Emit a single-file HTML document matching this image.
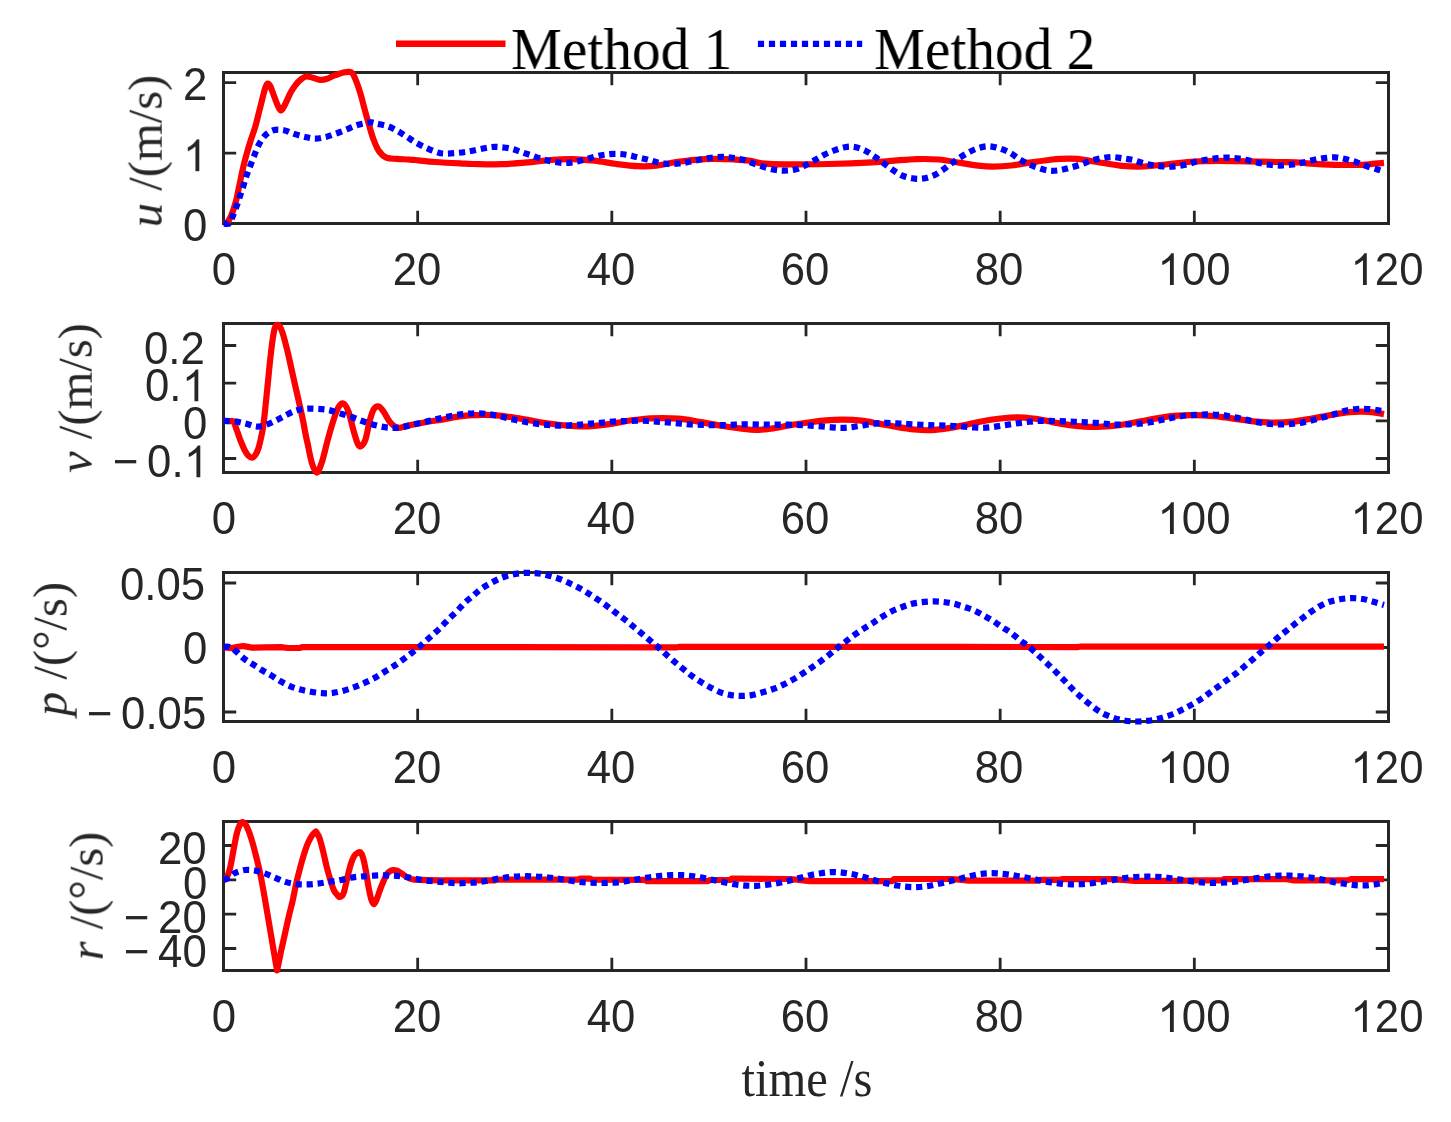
<!DOCTYPE html>
<html><head><meta charset="utf-8"><title>chart</title>
<style>
html,body{margin:0;padding:0;background:#fff;}
body{width:1451px;height:1122px;position:relative;overflow:hidden;font-family:"Liberation Sans",sans-serif;color:#262626;}
.t{position:absolute;white-space:nowrap;line-height:1;will-change:transform;}
.xt{font-size:43.75px;transform:translateX(-50%) scaleY(1.045);transform-origin:50% 50%;}
.yt{font-size:43.75px;transform:translateY(-50%) scaleY(1.045);text-align:right;}
.lab{font-family:"Liberation Serif",serif;font-size:48.6px;}
.leg{font-family:"Liberation Serif",serif;font-size:58.3px;color:#000;}
.yl{transform:translate(-50%,-50%) rotate(-90deg) scaleY(1.0);}
.mn{margin-right:8.5px;}
.g1{display:inline-block;width:0.5562em;height:0.695em;vertical-align:baseline;fill:#262626;overflow:visible;}
</style></head><body>
<svg width="1451" height="1122" viewBox="0 0 1451 1122" style="position:absolute;left:0;top:0">
<path d="M417.67,223.5v-12.7M417.67,72.5v12.7M611.83,223.5v-12.7M611.83,72.5v12.7M806.00,223.5v-12.7M806.00,72.5v12.7M1000.17,223.5v-12.7M1000.17,72.5v12.7M1194.33,223.5v-12.7M1194.33,72.5v12.7M223.5,82.6h12.7M1388.5,82.6h-12.7M223.5,153.05h12.7M1388.5,153.05h-12.7" stroke="#262626" stroke-width="2.8" fill="none"/>
<rect x="223.5" y="72.5" width="1165.0" height="151.0" fill="none" stroke="#262626" stroke-width="3"/>
<path d="M223.5,223.5C224.2,223.2 226.2,223.4 227.5,222.0C228.8,220.6 230.1,218.4 231.5,215.0C232.9,211.6 234.6,206.2 235.9,201.4C237.2,196.6 238.1,191.2 239.2,186.2C240.3,181.1 241.2,176.1 242.3,171.1C243.5,166.1 244.7,160.9 246.1,155.9C247.5,150.9 249.0,145.9 250.6,140.8C252.2,135.8 254.1,130.7 255.6,125.6C257.1,120.5 258.1,115.5 259.4,110.5C260.7,105.5 262.2,99.2 263.2,95.3C264.2,91.4 264.8,89.0 265.6,87.0C266.4,85.0 267.0,83.8 267.8,83.6C268.6,83.4 269.2,84.2 270.2,86.0C271.1,87.8 272.3,91.4 273.5,94.5C274.7,97.6 276.1,101.8 277.3,104.5C278.5,107.2 279.7,110.3 280.9,110.5C282.1,110.7 282.9,108.5 284.5,105.5C286.1,102.5 288.9,95.8 290.8,92.3C292.7,88.8 294.4,86.6 296.0,84.5C297.6,82.4 298.8,81.1 300.5,79.8C302.2,78.5 303.9,76.8 306.0,76.5C308.1,76.2 310.7,77.2 313.0,77.8C315.3,78.4 317.7,79.7 320.0,79.9C322.3,80.1 324.8,79.5 327.0,78.8C329.2,78.1 331.1,76.8 333.0,76.0C334.9,75.2 336.8,74.6 338.5,74.0C340.2,73.4 341.8,72.9 343.5,72.5C345.2,72.1 347.5,71.7 349.0,71.8C350.5,71.9 351.1,71.6 352.3,73.2C353.5,74.8 354.9,77.9 356.3,81.4C357.7,84.9 359.2,89.4 360.6,94.2C362.0,99.0 363.5,105.1 364.9,110.3C366.3,115.5 367.7,120.4 369.1,125.2C370.5,130.0 371.8,134.8 373.4,139.1C375.0,143.4 376.6,147.8 378.8,150.9C381.0,154.0 383.3,156.4 386.3,157.7C389.3,159.0 393.1,158.6 397.0,158.9C400.9,159.2 406.4,159.3 410.0,159.6C413.6,159.8 414.3,160.0 418.5,160.4C422.7,160.8 428.1,161.5 435.0,162.0C441.9,162.5 453.7,163.1 460.0,163.4C466.3,163.7 466.0,163.9 473.0,164.0C480.0,164.1 492.6,164.5 501.8,164.2C511.0,163.9 520.1,163.1 528.2,162.4C536.3,161.7 542.9,160.6 550.3,160.0C557.6,159.4 564.9,159.0 572.3,159.1C579.6,159.2 587.0,159.9 594.4,160.7C601.8,161.5 609.0,163.1 616.4,164.0C623.8,164.9 631.9,165.9 638.5,166.2C645.1,166.5 649.4,166.4 656.0,165.7C662.6,165.0 670.1,162.9 678.2,161.8C686.3,160.7 696.6,159.6 704.7,159.1C712.8,158.6 719.4,158.8 726.7,159.1C734.1,159.4 742.9,160.0 748.8,160.7C754.7,161.4 756.1,162.7 762.0,163.3C767.9,163.9 773.1,164.3 784.1,164.4C795.1,164.5 813.5,164.3 828.2,164.0C842.9,163.7 861.3,163.0 872.3,162.4C883.3,161.8 887.0,161.2 894.4,160.7C901.8,160.1 909.0,159.3 916.4,159.1C923.8,158.9 931.1,158.9 938.5,159.5C945.9,160.1 953.9,161.9 960.5,162.9C967.1,163.9 972.7,165.1 978.2,165.7C983.7,166.3 988.1,166.6 993.6,166.6C999.1,166.6 1005.0,166.2 1011.3,165.5C1017.5,164.8 1024.8,163.3 1031.1,162.4C1037.3,161.5 1044.0,160.6 1048.8,160.0C1053.6,159.4 1055.2,159.0 1059.9,158.8C1064.6,158.6 1071.0,158.3 1077.2,158.8C1083.4,159.3 1089.6,160.8 1097.1,162.0C1104.5,163.2 1114.1,165.1 1121.9,165.8C1129.8,166.6 1136.4,166.8 1144.2,166.5C1152.0,166.2 1160.7,164.8 1169.0,164.0C1177.3,163.2 1185.5,162.0 1193.8,161.5C1202.1,161.0 1210.0,160.8 1218.7,160.8C1227.4,160.8 1236.5,161.1 1246.0,161.3C1255.5,161.5 1266.6,161.8 1275.7,162.0C1284.8,162.2 1295.3,162.3 1300.5,162.5C1305.7,162.7 1301.2,163.0 1307.0,163.4C1312.8,163.8 1325.8,164.6 1335.0,164.8C1344.2,165.0 1355.8,165.0 1362.0,164.8C1368.2,164.6 1368.3,164.1 1372.0,163.8C1375.7,163.5 1382.0,163.1 1384.0,162.9" stroke="#ff0000" stroke-width="6.2" fill="none" stroke-linejoin="round"/>
<path d="M223.5,223.5C224.5,223.5 228.0,224.6 229.6,223.3C231.2,222.0 231.7,218.7 232.9,215.8C234.1,212.9 235.5,209.2 236.7,205.9C237.9,202.6 238.9,199.5 240.0,196.1C241.1,192.7 242.4,189.1 243.5,185.5C244.6,181.9 245.6,178.2 246.8,174.8C248.0,171.4 249.3,168.4 250.6,165.0C251.9,161.6 253.3,157.8 254.7,154.4C256.1,151.0 257.2,147.7 258.9,144.5C260.6,141.3 262.6,137.9 265.0,135.5C267.4,133.1 270.2,131.1 273.3,130.2C276.4,129.3 280.4,129.6 283.9,130.2C287.4,130.8 290.6,132.8 294.1,133.9C297.7,135.0 301.7,136.1 305.2,136.9C308.7,137.7 311.7,138.6 315.1,138.6C318.6,138.6 322.4,137.7 325.9,136.9C329.3,136.1 332.4,134.8 335.8,133.6C339.2,132.4 343.1,130.9 346.5,129.5C349.9,128.1 353.2,126.4 356.5,125.3C359.8,124.2 363.8,123.4 366.4,122.9C369.0,122.4 370.2,122.3 372.0,122.4C373.8,122.5 374.5,123.1 377.1,123.7C379.8,124.3 384.4,125.0 387.9,126.2C391.3,127.4 394.6,129.3 397.8,131.1C401.0,132.9 403.9,135.0 406.9,136.9C409.9,138.8 412.8,140.9 416.0,142.7C419.2,144.5 422.6,146.2 425.9,147.7C429.2,149.2 432.5,150.8 435.8,151.8C439.1,152.8 440.4,153.6 445.5,153.6C450.6,153.6 459.3,152.8 466.5,151.8C473.7,150.8 483.2,148.2 488.5,147.4C493.8,146.6 494.7,146.8 498.4,147.0C502.1,147.2 506.9,147.7 510.6,148.5C514.3,149.3 517.2,150.7 520.5,151.8C523.8,152.9 526.9,153.9 530.4,155.1C533.9,156.3 538.0,157.9 541.5,158.9C545.0,159.9 547.9,160.6 551.4,161.3C554.9,162.0 558.9,162.7 562.4,162.9C565.9,163.1 568.8,162.9 572.3,162.4C575.8,161.9 579.7,160.9 583.4,160.0C587.1,159.1 590.9,157.8 594.4,156.9C597.9,156.0 600.8,155.2 604.3,154.7C607.8,154.2 611.6,153.8 615.3,153.8C619.0,153.8 622.9,154.2 626.4,154.7C629.9,155.2 632.8,156.1 636.3,156.9C639.8,157.7 643.8,158.6 647.3,159.5C650.8,160.4 653.7,161.4 657.2,162.2C660.7,162.9 664.6,163.8 668.3,164.0C672.0,164.2 675.8,163.9 679.3,163.5C682.8,163.1 685.7,162.5 689.2,161.8C692.7,161.1 696.6,160.2 700.3,159.5C704.0,158.8 707.6,158.2 711.3,157.8C715.0,157.4 718.8,156.9 722.3,156.9C725.8,156.9 728.7,157.3 732.2,157.8C735.7,158.3 739.8,158.9 743.3,159.8C746.8,160.7 749.9,162.2 753.2,163.4C756.5,164.6 759.7,165.8 763.2,166.8C766.7,167.9 770.7,169.1 774.2,169.7C777.7,170.3 780.6,170.6 784.1,170.6C787.6,170.6 791.6,170.3 795.1,169.5C798.6,168.7 801.8,167.1 805.1,165.5C808.4,163.9 811.8,161.8 815.0,160.0C818.2,158.2 821.1,156.3 824.3,154.7C827.5,153.1 831.0,151.6 834.4,150.3C837.8,149.1 841.4,147.8 844.8,147.2C848.2,146.6 851.3,146.4 854.7,147.0C858.1,147.6 862.0,149.1 865.3,150.7C868.6,152.3 871.5,154.5 874.5,156.5C877.5,158.5 880.4,160.7 883.4,162.9C886.4,165.1 889.2,167.4 892.2,169.5C895.2,171.6 898.4,173.9 901.7,175.4C905.0,176.9 908.6,177.8 912.0,178.3C915.4,178.9 918.6,179.1 922.0,178.7C925.4,178.3 929.0,177.4 932.3,176.1C935.6,174.8 938.8,172.6 941.8,170.6C944.8,168.6 947.6,166.1 950.6,164.0C953.6,161.9 956.5,159.8 959.5,157.8C962.5,155.9 965.6,153.9 968.7,152.3C971.8,150.7 974.9,149.1 978.2,148.1C981.6,147.1 985.2,146.2 988.8,146.3C992.4,146.4 996.2,147.4 999.8,148.5C1003.4,149.6 1007.0,151.2 1010.2,152.9C1013.4,154.6 1016.0,157.1 1019.0,158.9C1022.0,160.8 1025.3,162.5 1028.5,164.0C1031.7,165.5 1034.8,166.8 1038.2,167.9C1041.6,169.0 1045.3,170.2 1048.8,170.6C1052.3,171.0 1055.9,170.7 1059.4,170.2C1062.9,169.7 1066.2,168.6 1069.8,167.7C1073.4,166.8 1077.4,165.7 1080.9,164.5C1084.4,163.3 1087.5,161.8 1090.9,160.8C1094.3,159.8 1097.8,158.9 1101.3,158.3C1104.8,157.7 1108.5,157.1 1112.0,157.1C1115.5,157.1 1118.9,157.8 1122.4,158.3C1125.9,158.8 1129.5,159.2 1133.1,160.0C1136.6,160.8 1140.2,162.4 1143.7,163.3C1147.2,164.2 1150.6,164.8 1154.1,165.3C1157.6,165.8 1161.3,166.3 1164.8,166.5C1168.3,166.7 1171.6,166.6 1175.2,166.3C1178.8,166.0 1182.8,165.3 1186.4,164.5C1190.0,163.7 1193.3,162.3 1196.8,161.5C1200.3,160.7 1203.9,160.2 1207.5,159.6C1211.1,159.0 1214.7,158.4 1218.2,158.1C1221.7,157.8 1225.1,157.5 1228.6,157.6C1232.1,157.7 1235.7,158.1 1239.3,158.6C1242.9,159.1 1246.6,160.0 1250.2,160.8C1253.8,161.6 1257.3,162.6 1260.8,163.3C1264.3,164.0 1267.8,164.6 1271.3,165.0C1274.8,165.4 1278.4,165.6 1281.9,165.5C1285.5,165.4 1289.1,165.0 1292.6,164.5C1296.1,164.0 1299.5,163.2 1303.0,162.5C1306.5,161.8 1309.9,160.7 1313.4,160.0C1316.9,159.3 1320.4,158.5 1324.1,158.1C1327.8,157.7 1331.6,157.1 1335.3,157.3C1339.0,157.5 1342.6,158.5 1346.2,159.3C1349.8,160.2 1353.5,161.2 1356.9,162.4C1360.4,163.6 1363.6,165.0 1366.9,166.2C1370.2,167.3 1374.0,168.4 1376.8,169.3C1379.6,170.2 1382.8,171.1 1384.0,171.5" stroke="#0000ff" stroke-width="6.2" fill="none" stroke-dasharray="6.2 4.8"/>
<path d="M417.67,472.5v-12.7M417.67,323.5v12.7M611.83,472.5v-12.7M611.83,323.5v12.7M806.00,472.5v-12.7M806.00,323.5v12.7M1000.17,472.5v-12.7M1000.17,323.5v12.7M1194.33,472.5v-12.7M1194.33,323.5v12.7M223.5,345.5h12.7M1388.5,345.5h-12.7M223.5,383.2h12.7M1388.5,383.2h-12.7M223.5,420.8h12.7M1388.5,420.8h-12.7M223.5,458.5h12.7M1388.5,458.5h-12.7" stroke="#262626" stroke-width="2.8" fill="none"/>
<rect x="223.5" y="323.5" width="1165.0" height="149.0" fill="none" stroke="#262626" stroke-width="3"/>
<path d="M223.5,421.0C224.4,421.0 227.3,421.0 229.0,421.1C230.7,421.2 232.1,420.0 233.4,421.6C234.7,423.2 235.7,427.4 236.9,430.5C238.1,433.6 239.2,437.3 240.5,440.5C241.8,443.7 243.2,447.1 244.4,449.6C245.7,452.1 246.7,454.1 248.0,455.4C249.3,456.7 250.7,457.7 252.0,457.6C253.3,457.5 254.5,456.3 255.6,454.6C256.7,452.9 257.8,450.4 258.7,447.5C259.6,444.6 260.4,440.5 261.2,437.0C261.9,433.5 262.5,431.2 263.2,426.5C263.9,421.8 264.6,414.8 265.2,409.0C265.8,403.2 266.4,397.4 267.0,391.5C267.6,385.6 268.2,379.6 268.8,373.5C269.4,367.4 270.0,360.8 270.7,355.0C271.4,349.2 272.1,343.0 272.8,338.5C273.5,334.0 274.0,330.3 274.8,328.0C275.6,325.7 276.7,324.8 277.7,324.8C278.7,324.8 279.7,326.2 280.6,328.0C281.6,329.8 282.2,331.6 283.4,335.5C284.5,339.4 286.1,345.7 287.5,351.3C288.9,356.9 290.2,363.4 291.5,369.0C292.8,374.6 293.8,379.5 295.0,384.7C296.2,389.9 297.2,394.4 298.5,400.0C299.8,405.6 301.4,412.8 302.6,418.5C303.8,424.2 304.8,430.2 305.6,434.5C306.5,438.8 306.7,439.3 307.7,444.0C308.7,448.7 310.3,458.0 311.8,462.8C313.3,467.6 315.2,472.6 316.8,472.6C318.4,472.6 319.9,468.1 321.7,462.8C323.5,457.5 325.6,447.7 327.5,440.7C329.4,433.7 331.5,426.3 333.3,420.8C335.1,415.3 336.7,410.5 338.3,407.6C339.9,404.7 341.6,402.8 343.2,403.4C344.8,403.9 346.5,406.6 348.2,410.9C349.9,415.2 351.6,423.8 353.1,429.1C354.6,434.4 356.1,439.9 357.3,442.8C358.6,445.7 359.2,446.9 360.6,446.4C362.0,445.8 364.0,443.8 365.5,439.5C367.0,435.2 368.3,425.9 369.7,420.8C371.1,415.8 372.3,411.6 373.8,409.2C375.3,406.8 377.2,406.0 378.8,406.4C380.4,406.8 381.8,409.0 383.7,411.7C385.6,414.4 388.0,419.8 390.4,422.5C392.8,425.2 395.1,427.2 397.8,427.8C400.6,428.4 402.1,426.8 406.9,425.8C411.7,424.8 420.6,423.1 426.7,422.0C432.8,420.9 438.9,420.3 443.3,419.5C447.7,418.7 449.0,418.1 453.2,417.4C457.4,416.7 463.5,415.8 468.7,415.4C473.9,415.0 479.0,414.8 484.1,414.8C489.2,414.9 494.0,415.1 499.5,415.7C505.0,416.2 511.3,417.2 517.2,418.1C523.1,419.0 528.9,420.2 534.8,421.2C540.7,422.2 546.6,423.2 552.5,424.0C558.4,424.8 564.6,425.4 570.1,425.8C575.6,426.2 580.5,426.6 585.6,426.5C590.8,426.4 595.9,425.7 601.0,425.1C606.1,424.5 611.2,423.7 616.4,422.9C621.5,422.1 626.8,421.0 631.9,420.3C637.0,419.6 642.1,418.9 647.3,418.5C652.4,418.1 657.6,418.1 662.8,418.1C667.9,418.1 673.1,418.3 678.2,418.7C683.3,419.1 688.5,419.9 693.6,420.7C698.8,421.5 704.0,422.7 709.1,423.6C714.2,424.5 719.4,425.4 724.5,426.2C729.6,427.0 734.9,427.8 740.0,428.4C745.1,429.0 749.9,430.0 755.4,430.0C760.9,430.0 767.2,429.2 773.1,428.4C779.0,427.6 784.8,426.1 790.7,425.1C796.6,424.1 802.5,423.3 808.4,422.5C814.3,421.7 820.1,420.8 826.0,420.3C831.9,419.8 837.8,419.5 843.7,419.6C849.6,419.7 855.4,420.0 861.3,420.7C867.2,421.4 873.0,422.6 878.9,423.6C884.8,424.6 890.7,425.9 896.6,426.9C902.5,427.9 908.7,428.9 914.2,429.5C919.7,430.1 924.2,430.4 929.7,430.2C935.2,430.0 941.4,429.2 947.3,428.4C953.2,427.5 959.1,426.3 965.0,425.1C970.9,423.9 976.7,422.3 982.6,421.2C988.5,420.1 994.4,419.1 1000.3,418.5C1006.2,417.9 1012.4,417.4 1017.9,417.4C1023.4,417.4 1028.1,417.9 1033.3,418.5C1038.5,419.1 1045.2,420.5 1048.8,421.2C1052.4,421.9 1051.4,422.0 1054.9,422.6C1058.4,423.2 1064.8,424.4 1069.8,425.1C1074.8,425.8 1079.3,426.4 1084.7,426.6C1090.1,426.9 1096.2,426.9 1102.0,426.6C1107.8,426.4 1113.2,425.9 1119.4,425.1C1125.6,424.3 1133.1,422.7 1139.3,421.6C1145.5,420.5 1150.8,419.3 1156.6,418.4C1162.4,417.4 1167.8,416.4 1174.0,415.9C1180.2,415.4 1187.2,415.1 1193.8,415.2C1200.4,415.2 1207.1,415.6 1213.7,416.2C1220.3,416.8 1226.9,417.7 1233.5,418.6C1240.1,419.5 1246.8,420.7 1253.4,421.4C1260.0,422.1 1266.7,422.6 1273.3,422.6C1279.9,422.6 1286.5,422.3 1293.1,421.6C1299.7,420.9 1306.4,419.5 1313.0,418.4C1319.6,417.2 1326.6,415.7 1332.8,414.7C1339.0,413.7 1345.2,412.7 1350.2,412.2C1355.2,411.7 1358.5,411.6 1362.6,411.7C1366.7,411.8 1371.4,412.3 1375.0,412.7C1378.6,413.1 1382.5,413.9 1384.0,414.2" stroke="#ff0000" stroke-width="6.2" fill="none" stroke-linejoin="round"/>
<path d="M223.5,420.8C225.7,420.9 232.5,421.1 236.5,421.6C240.5,422.2 243.9,423.3 247.3,424.1C250.8,424.9 253.8,426.6 257.2,426.6C260.6,426.6 264.6,425.3 268.0,424.1C271.4,422.9 274.6,421.1 277.9,419.5C281.2,417.9 284.5,415.8 287.8,414.2C291.1,412.6 294.4,411.0 297.7,410.1C301.0,409.2 304.2,408.9 307.7,408.7C311.1,408.5 314.8,408.7 318.4,408.9C322.0,409.1 325.6,409.4 329.2,410.1C332.8,410.9 336.3,412.3 339.9,413.4C343.5,414.5 347.2,415.5 350.7,416.7C354.1,417.9 357.3,419.3 360.6,420.5C363.9,421.7 367.1,422.8 370.5,423.8C373.9,424.8 377.7,425.9 381.3,426.6C384.9,427.3 388.4,427.7 392.0,427.8C395.6,427.9 399.2,427.7 402.8,427.1C406.4,426.6 409.9,425.3 413.5,424.5C417.1,423.7 420.7,422.9 424.3,422.1C427.9,421.3 431.6,420.3 435.0,419.5C438.4,418.7 441.0,418.0 444.4,417.3C447.8,416.6 451.8,415.8 455.4,415.2C459.0,414.6 462.4,414.2 466.0,413.9C469.6,413.6 473.2,413.2 476.8,413.2C480.4,413.2 484.3,413.7 487.9,414.1C491.5,414.6 494.9,415.2 498.4,415.9C501.9,416.6 505.3,417.7 508.8,418.5C512.3,419.3 515.9,420.0 519.4,420.7C522.9,421.4 526.4,422.1 530.0,422.7C533.6,423.3 537.2,423.9 540.8,424.3C544.4,424.7 547.9,424.9 551.4,425.1C554.9,425.3 558.4,425.6 562.0,425.6C565.6,425.6 569.2,425.3 572.8,425.1C576.4,424.9 580.1,424.6 583.8,424.3C587.5,424.0 591.2,423.7 594.8,423.4C598.4,423.1 601.9,422.6 605.4,422.3C608.9,422.0 612.4,421.6 616.0,421.4C619.6,421.2 623.2,421.1 626.8,421.0C630.4,420.9 634.2,420.7 637.8,420.7C641.4,420.7 644.8,420.8 648.4,421.0C652.0,421.2 655.8,421.5 659.4,421.8C663.0,422.1 666.4,422.4 670.0,422.7C673.6,423.0 677.2,423.3 680.8,423.6C684.4,423.9 687.8,424.3 691.4,424.5C695.0,424.7 698.9,424.8 702.5,424.9C706.1,425.0 709.4,425.1 713.0,425.1C716.6,425.1 720.5,425.2 724.1,425.1C727.8,425.0 731.3,424.8 734.9,424.7C738.5,424.6 740.2,424.3 745.5,424.3C750.8,424.3 759.3,424.6 766.5,424.7C773.7,424.8 781.1,424.5 788.5,424.7C795.9,424.9 803.4,425.2 810.6,425.6C817.8,426.0 826.2,426.9 831.5,427.3C836.8,427.7 838.9,427.9 842.6,427.8C846.3,427.7 849.9,427.3 853.6,426.9C857.3,426.4 861.0,425.7 864.6,425.1C868.2,424.6 871.4,424.0 875.0,423.6C878.6,423.2 882.4,422.9 886.0,422.9C889.6,422.9 893.0,423.2 896.6,423.4C900.2,423.6 902.2,423.7 907.6,424.0C913.0,424.3 922.0,424.8 929.2,425.1C936.4,425.4 945.2,425.6 950.6,425.8C956.0,426.0 958.1,426.2 961.7,426.5C965.3,426.8 968.6,427.1 972.2,427.3C975.8,427.5 979.5,427.9 983.1,427.8C986.7,427.7 990.0,427.3 993.6,426.9C997.2,426.4 1001.1,425.7 1004.7,425.1C1008.3,424.6 1011.7,424.1 1015.3,423.6C1018.9,423.1 1022.5,422.5 1026.1,422.1C1029.6,421.7 1033.0,421.2 1036.6,421.0C1040.2,420.8 1043.8,420.9 1047.5,420.9C1051.2,420.9 1055.0,421.0 1058.6,421.1C1062.2,421.2 1065.8,421.4 1069.3,421.6C1072.8,421.8 1076.2,421.9 1079.7,422.1C1083.2,422.3 1086.8,422.4 1090.4,422.6C1094.0,422.8 1097.7,423.0 1101.3,423.3C1104.9,423.6 1108.5,424.4 1112.0,424.6C1115.5,424.8 1119.0,424.7 1122.6,424.6C1126.2,424.5 1129.9,424.4 1133.5,424.1C1137.1,423.9 1140.6,423.6 1144.2,423.1C1147.8,422.7 1151.4,422.1 1154.9,421.4C1158.4,420.7 1161.8,419.8 1165.3,419.1C1168.8,418.4 1172.4,417.7 1176.0,417.1C1179.6,416.5 1183.2,415.8 1186.9,415.4C1190.6,415.0 1194.5,414.9 1198.1,414.7C1201.7,414.5 1205.2,414.4 1208.7,414.4C1212.2,414.4 1215.7,414.6 1219.2,414.9C1222.7,415.2 1226.2,415.8 1229.8,416.4C1233.3,417.0 1237.0,417.6 1240.5,418.4C1244.0,419.1 1247.4,420.1 1250.9,420.9C1254.4,421.6 1258.0,422.4 1261.6,422.9C1265.2,423.4 1268.9,423.9 1272.5,424.1C1276.1,424.3 1279.7,424.4 1283.2,424.3C1286.8,424.2 1290.3,424.0 1293.8,423.6C1297.3,423.2 1300.8,422.8 1304.3,422.1C1307.8,421.4 1311.4,420.5 1314.9,419.6C1318.4,418.7 1321.9,417.7 1325.4,416.7C1328.9,415.7 1332.3,414.8 1335.8,413.7C1339.3,412.6 1343.0,411.2 1346.5,410.4C1350.0,409.6 1353.6,409.2 1357.1,409.0C1360.6,408.8 1364.0,408.8 1367.5,409.0C1371.0,409.2 1375.5,409.8 1378.2,410.2C1381.0,410.6 1383.0,411.0 1384.0,411.2" stroke="#0000ff" stroke-width="6.2" fill="none" stroke-dasharray="6.2 4.8"/>
<path d="M417.67,721.5v-12.7M417.67,572.5v12.7M611.83,721.5v-12.7M611.83,572.5v12.7M806.00,721.5v-12.7M806.00,572.5v12.7M1000.17,721.5v-12.7M1000.17,572.5v12.7M1194.33,721.5v-12.7M1194.33,572.5v12.7M223.5,583h12.7M1388.5,583h-12.7M223.5,647.5h12.7M1388.5,647.5h-12.7M223.5,712h12.7M1388.5,712h-12.7" stroke="#262626" stroke-width="2.8" fill="none"/>
<rect x="223.5" y="572.5" width="1165.0" height="149.0" fill="none" stroke="#262626" stroke-width="3"/>
<path d="M223.5,647.3L232.0,648.1L238.0,646.7L243.1,646.0L248.0,646.9L252.2,647.7L265.0,647.3L281.0,647.2L288.0,648.0L300.0,648.0L302.0,647.1L677.0,647.3L680.0,646.9L960.0,646.9L1077.0,647.1L1080.0,646.7L1384.0,646.7" stroke="#ff0000" stroke-width="6.2" fill="none" stroke-linejoin="round"/>
<path d="M223.5,646.9C224.5,646.9 227.7,646.3 229.7,647.0C231.7,647.7 233.3,649.1 235.7,651.0C238.1,652.9 241.1,656.3 243.9,658.5C246.7,660.7 249.6,662.3 252.6,664.2C255.6,666.1 258.6,668.1 261.7,670.0C264.8,671.9 268.0,673.5 271.2,675.4C274.4,677.3 277.4,679.5 280.6,681.3C283.8,683.1 287.0,684.9 290.3,686.3C293.6,687.7 297.1,688.7 300.5,689.6C303.9,690.5 307.4,691.2 311.0,691.8C314.6,692.4 318.6,692.9 322.0,693.1C325.4,693.3 328.2,693.5 331.6,693.1C335.1,692.7 339.0,691.9 342.7,690.9C346.4,689.9 350.3,688.6 353.7,687.4C357.1,686.2 360.0,685.0 363.3,683.5C366.6,682.0 370.3,680.2 373.5,678.5C376.7,676.8 379.5,674.9 382.6,673.0C385.7,671.1 389.3,668.9 392.3,667.0C395.3,665.1 397.8,663.5 400.6,661.4C403.5,659.3 406.5,656.8 409.4,654.6C412.2,652.4 415.0,650.4 417.7,648.2C420.4,646.0 422.8,643.7 425.4,641.3C428.0,638.9 430.9,636.4 433.6,633.9C436.4,631.4 439.3,628.8 441.9,626.2C444.5,623.6 446.9,620.9 449.4,618.4C451.9,615.9 454.5,613.6 457.1,611.0C459.7,608.4 462.1,605.2 464.8,602.7C467.5,600.2 470.4,598.1 473.1,595.8C475.8,593.5 478.2,591.0 481.1,588.9C484.0,586.8 487.1,585.1 490.2,583.4C493.3,581.7 496.6,579.9 499.8,578.5C503.0,577.1 506.1,576.1 509.5,575.2C512.9,574.3 516.3,573.6 519.9,573.2C523.5,572.8 527.5,572.9 531.0,573.0C534.5,573.1 537.7,573.2 541.2,573.8C544.7,574.4 548.6,575.5 552.2,576.5C555.8,577.5 559.2,578.7 562.7,580.1C566.2,581.5 569.6,583.2 572.9,584.8C576.2,586.4 579.4,588.0 582.5,589.8C585.6,591.5 588.3,593.4 591.3,595.3C594.2,597.2 597.3,599.1 600.2,601.1C603.1,603.1 606.0,605.3 608.8,607.4C611.6,609.5 614.2,611.6 617.1,613.8C620.0,616.0 623.3,618.3 626.2,620.6C629.1,622.9 631.8,625.2 634.5,627.5C637.2,629.8 640.0,632.1 642.7,634.4C645.5,636.7 648.2,639.0 651.0,641.3C653.8,643.6 656.5,645.8 659.3,648.2C662.0,650.6 664.8,653.3 667.5,655.7C670.2,658.1 673.0,660.5 675.8,662.8C678.6,665.1 681.3,667.5 684.1,669.7C686.9,672.0 689.5,674.2 692.4,676.3C695.2,678.4 698.2,680.2 701.2,682.1C704.2,684.0 707.1,685.7 710.3,687.4C713.5,689.1 717.1,691.0 720.5,692.3C723.9,693.6 727.5,694.5 730.9,695.1C734.3,695.7 737.6,695.9 741.1,695.9C744.6,695.9 748.0,695.7 751.6,695.1C755.2,694.5 759.0,693.3 762.6,692.3C766.2,691.3 769.7,690.2 773.1,689.0C776.5,687.8 779.6,686.4 782.8,684.9C786.0,683.4 789.2,681.7 792.4,679.9C795.6,678.1 799.0,675.9 802.1,673.9C805.2,671.9 808.0,670.1 810.9,668.1C813.8,666.1 816.7,664.2 819.7,662.0C822.7,659.8 825.9,657.4 828.8,655.1C831.7,652.8 834.4,650.4 837.1,648.2C839.9,646.0 842.4,644.1 845.3,641.9C848.1,639.7 851.2,637.2 854.2,635.0C857.2,632.8 860.3,630.8 863.3,628.9C866.3,627.0 869.1,625.3 872.1,623.4C875.1,621.5 878.1,619.2 881.2,617.3C884.3,615.4 887.6,613.4 890.8,611.8C894.0,610.2 897.1,609.0 900.5,607.7C903.9,606.4 907.5,605.0 911.0,604.1C914.5,603.2 917.7,602.7 921.2,602.2C924.7,601.8 928.6,601.5 932.2,601.4C935.8,601.3 939.2,601.5 942.7,601.9C946.2,602.3 949.9,602.8 953.4,603.6C956.9,604.4 960.4,605.8 963.9,606.9C967.4,608.0 970.8,608.9 974.1,610.4C977.5,611.9 980.9,614.0 984.0,615.7C987.1,617.4 989.8,618.8 992.8,620.7C995.8,622.6 998.8,625.0 1001.9,627.0C1005.0,629.0 1008.2,630.7 1011.2,632.9C1014.2,635.1 1016.9,637.8 1019.7,640.0C1022.5,642.2 1025.4,644.0 1028.1,646.2C1030.8,648.4 1033.4,650.8 1036.1,653.2C1038.8,655.7 1041.6,658.4 1044.3,660.9C1047.0,663.4 1049.6,665.7 1052.2,668.2C1054.8,670.7 1057.3,673.4 1059.8,675.9C1062.3,678.4 1064.6,680.9 1067.1,683.5C1069.6,686.1 1072.2,688.9 1074.8,691.4C1077.4,693.9 1080.0,696.1 1082.7,698.5C1085.4,700.9 1088.3,703.2 1091.2,705.5C1094.1,707.8 1097.2,710.2 1100.2,712.0C1103.2,713.8 1106.2,715.0 1109.5,716.3C1112.8,717.6 1116.5,718.9 1120.0,719.7C1123.5,720.5 1127.2,721.0 1130.7,721.3C1134.2,721.6 1137.7,721.5 1141.2,721.3C1144.7,721.1 1148.4,720.8 1151.9,720.2C1155.4,719.6 1158.9,718.7 1162.4,717.7C1165.9,716.7 1169.7,715.4 1173.1,714.0C1176.5,712.6 1179.8,710.9 1183.0,709.2C1186.2,707.6 1189.4,705.9 1192.6,704.1C1195.8,702.3 1198.9,700.5 1201.9,698.5C1204.9,696.5 1207.5,694.3 1210.4,692.2C1213.3,690.1 1216.5,687.8 1219.4,685.7C1222.3,683.6 1225.0,681.6 1227.9,679.5C1230.8,677.4 1233.9,675.2 1236.7,673.0C1239.5,670.8 1242.1,668.4 1244.9,666.0C1247.7,663.6 1250.7,661.3 1253.4,658.9C1256.1,656.5 1258.6,654.1 1261.3,651.8C1264.0,649.4 1267.0,647.1 1269.7,644.8C1272.4,642.4 1275.0,640.0 1277.7,637.7C1280.4,635.4 1283.0,633.4 1285.8,631.2C1288.6,629.0 1291.5,626.6 1294.3,624.4C1297.1,622.2 1299.9,620.1 1302.8,617.9C1305.7,615.7 1308.6,613.4 1311.6,611.4C1314.6,609.4 1317.4,607.4 1320.6,605.8C1323.8,604.1 1327.1,602.6 1330.5,601.5C1333.9,600.4 1337.6,599.6 1341.2,599.0C1344.8,598.4 1348.7,598.1 1352.3,598.1C1355.9,598.1 1359.5,598.4 1363.0,599.0C1366.5,599.6 1369.9,600.8 1373.4,601.8C1376.9,602.8 1382.2,604.5 1384.0,605.0" stroke="#0000ff" stroke-width="6.2" fill="none" stroke-dasharray="6.2 4.8"/>
<path d="M417.67,970.5v-12.7M417.67,821.5v12.7M611.83,970.5v-12.7M611.83,821.5v12.7M806.00,970.5v-12.7M806.00,821.5v12.7M1000.17,970.5v-12.7M1000.17,821.5v12.7M1194.33,970.5v-12.7M1194.33,821.5v12.7M223.5,845.5h12.7M1388.5,845.5h-12.7M223.5,879.8h12.7M1388.5,879.8h-12.7M223.5,914.2h12.7M1388.5,914.2h-12.7M223.5,948.5h12.7M1388.5,948.5h-12.7" stroke="#262626" stroke-width="2.8" fill="none"/>
<rect x="223.5" y="821.5" width="1165.0" height="149.0" fill="none" stroke="#262626" stroke-width="3"/>
<path d="M223.5,879.8C224.0,879.6 225.3,880.5 226.4,878.5C227.5,876.5 228.9,872.7 230.2,867.6C231.4,862.5 232.8,853.7 233.9,847.9C235.0,842.1 236.0,836.6 237.0,832.7C238.0,828.8 239.0,826.2 240.0,824.4C241.0,822.6 241.9,821.7 243.0,822.1C244.1,822.5 245.4,823.9 246.8,826.7C248.2,829.5 249.9,834.0 251.4,838.8C252.9,843.6 254.4,849.5 255.9,855.5C257.4,861.5 259.0,867.7 260.5,875.0C262.0,882.3 263.5,891.0 265.0,899.5C266.5,908.0 268.1,917.8 269.5,926.0C270.9,934.2 272.3,942.5 273.3,948.5C274.3,954.5 275.0,958.3 275.6,962.0C276.2,965.7 276.9,969.1 277.1,970.5C277.8,967.3 279.7,957.7 281.0,951.5C282.3,945.3 283.7,939.5 285.0,933.5C286.3,927.5 287.8,920.8 289.0,915.5C290.2,910.2 291.3,906.7 292.5,901.5C293.7,896.3 294.9,889.3 296.0,884.3C297.1,879.3 298.2,875.4 299.2,871.5C300.2,867.6 301.1,864.1 302.1,860.7C303.1,857.3 304.0,854.0 305.0,851.0C306.0,848.0 306.9,845.4 308.1,842.8C309.3,840.2 310.7,837.4 312.0,835.5C313.3,833.6 315.2,832.2 315.9,831.5C316.5,832.5 318.2,834.5 319.4,837.8C320.6,841.0 321.8,846.3 323.0,851.0C324.2,855.7 325.3,861.3 326.5,866.0C327.7,870.7 328.9,875.2 330.1,879.2C331.3,883.2 332.5,887.3 333.7,889.9C334.9,892.5 336.2,893.6 337.2,894.8C338.2,896.0 338.8,897.2 339.9,897.0C340.9,896.8 342.3,896.4 343.5,893.4C344.7,890.4 345.8,884.0 347.0,879.2C348.2,874.5 349.4,868.8 350.6,864.9C351.8,861.0 353.0,858.0 354.2,856.0C355.4,854.0 356.7,853.5 357.7,852.9C358.7,852.3 359.5,851.6 360.4,852.4C361.3,853.2 362.2,854.8 363.1,857.8C364.0,860.8 364.9,865.5 365.8,870.3C366.7,875.0 367.5,881.5 368.4,886.3C369.3,891.0 370.2,895.8 371.1,898.8C372.0,901.8 372.8,904.1 373.8,904.1C374.8,904.1 375.9,901.2 376.9,898.8C377.9,896.4 378.9,892.9 380.0,889.9C381.1,886.9 382.4,883.7 383.6,881.0C384.8,878.3 385.9,875.5 387.1,873.8C388.3,872.1 389.6,871.3 390.7,870.7C391.8,870.1 392.3,870.1 393.4,870.1C394.4,870.1 395.7,870.2 397.0,870.7C398.3,871.2 399.9,872.4 401.4,873.4C402.9,874.4 404.5,875.6 405.9,876.5C407.3,877.4 408.6,878.2 410.0,878.7C411.4,879.2 412.6,879.4 414.0,879.6C415.4,879.8 414.2,879.7 418.5,879.8C422.8,879.9 436.4,880.2 440.0,880.3L495.0,880.3L497.0,879.6L578.0,879.6L580.0,878.7L590.0,878.7L592.0,879.6L645.0,879.8L647.0,881.2L708.0,881.2L710.0,880.0L730.0,880.0L732.0,878.5L790.0,879.0L810.0,881.2L892.0,881.2L894.0,879.0L952.0,879.0L969.0,880.7L1038.0,880.7L1040.0,879.9L1060.0,879.9L1062.0,879.1L1113.0,879.1L1135.0,880.9L1178.0,880.9L1195.0,880.4L1222.0,880.4L1224.0,879.1L1287.0,879.1L1294.0,880.4L1347.0,880.4L1351.0,879.1L1384.0,879.1" stroke="#ff0000" stroke-width="6.2" fill="none" stroke-linejoin="round"/>
<path d="M223.5,879.8C224.4,879.5 227.2,878.9 229.1,877.8C231.0,876.7 232.3,874.4 234.9,873.1C237.5,871.8 241.4,870.4 244.8,870.0C248.2,869.6 252.2,870.1 255.6,870.7C259.1,871.3 262.2,872.4 265.5,873.6C268.8,874.8 272.1,876.4 275.4,877.8C278.7,879.2 281.9,880.8 285.3,881.9C288.8,883.0 292.5,883.7 296.1,884.1C299.7,884.5 303.2,884.5 306.8,884.4C310.4,884.3 314.0,884.0 317.6,883.6C321.2,883.2 324.7,882.5 328.3,881.9C331.9,881.3 335.5,881.0 339.1,880.3C342.7,879.6 346.2,878.4 349.8,877.8C353.4,877.2 357.0,876.8 360.6,876.5C364.2,876.2 367.7,876.0 371.3,875.8C374.9,875.6 378.5,875.3 382.1,875.3C385.7,875.3 389.4,875.4 392.8,875.6C396.2,875.8 399.4,876.0 402.8,876.5C406.2,877.0 409.9,877.7 413.5,878.3C417.1,878.9 420.7,879.8 424.3,880.3C427.9,880.8 431.5,881.0 435.0,881.4C438.5,881.8 441.9,882.1 445.5,882.4C449.1,882.7 452.8,883.2 456.5,883.3C460.2,883.4 463.9,883.1 467.6,882.9C471.3,882.7 475.0,882.5 478.6,882.1C482.2,881.7 485.5,880.9 489.0,880.3C492.5,879.7 495.9,879.0 499.5,878.5C503.1,878.0 507.0,877.4 510.6,877.0C514.2,876.6 517.6,876.4 521.2,876.3C524.8,876.2 528.4,876.2 532.0,876.3C535.6,876.4 539.0,876.7 542.6,877.0C546.2,877.3 550.0,877.7 553.6,878.1C557.2,878.5 560.6,879.1 564.2,879.6C567.8,880.1 571.4,880.9 575.0,881.4C578.6,881.9 582.0,882.2 585.6,882.5C589.2,882.8 593.0,882.8 596.6,882.9C600.2,883.0 603.4,883.0 607.0,882.9C610.6,882.8 614.3,882.7 618.0,882.3C621.7,881.9 625.4,881.2 629.0,880.7C632.6,880.2 636.1,879.6 639.6,879.0C643.1,878.4 646.6,877.7 650.2,877.2C653.8,876.7 657.4,876.2 661.0,875.9C664.6,875.6 668.1,875.3 671.6,875.2C675.1,875.1 678.6,875.0 682.2,875.2C685.8,875.4 689.6,875.8 693.2,876.3C696.8,876.8 700.4,877.4 704.0,878.1C707.6,878.8 711.1,879.6 714.6,880.3C718.1,881.0 721.6,881.8 725.2,882.5C728.8,883.2 732.4,884.0 736.0,884.5C739.6,885.0 743.2,885.4 746.6,885.6C750.0,885.8 753.0,885.9 756.5,885.8C760.0,885.6 763.9,885.2 767.6,884.7C771.3,884.2 775.0,883.6 778.6,882.9C782.2,882.2 785.5,881.5 789.0,880.7C792.5,879.9 796.0,878.8 799.5,877.9C803.0,877.0 806.5,876.0 810.1,875.2C813.7,874.4 817.3,873.7 820.9,873.2C824.5,872.7 828.0,872.2 831.5,872.1C835.0,872.0 838.5,872.2 842.1,872.6C845.7,873.0 849.3,873.6 852.9,874.3C856.5,875.0 860.0,876.0 863.5,877.0C867.0,878.0 870.4,879.1 873.9,880.1C877.4,881.1 881.0,882.1 884.5,882.9C888.0,883.7 891.3,884.5 894.8,885.1C898.3,885.7 901.8,886.4 905.4,886.7C909.0,887.0 912.8,887.2 916.4,887.1C920.0,887.0 923.4,886.7 927.0,886.2C930.6,885.7 934.2,884.8 937.8,884.0C941.4,883.2 944.9,882.4 948.4,881.6C951.9,880.8 955.3,879.9 958.8,879.0C962.3,878.1 965.9,877.1 969.4,876.3C972.9,875.5 976.2,874.6 979.7,874.1C983.2,873.6 986.7,873.3 990.3,873.2C993.9,873.1 997.7,873.4 1001.4,873.7C1005.1,874.0 1008.8,874.7 1012.4,875.2C1016.0,875.8 1019.3,876.4 1022.8,877.0C1026.3,877.6 1029.8,878.3 1033.3,879.0C1036.8,879.7 1040.2,880.7 1043.8,881.3C1047.3,881.9 1051.0,882.3 1054.6,882.8C1058.2,883.3 1062.0,883.9 1065.6,884.1C1069.2,884.4 1072.5,884.3 1076.0,884.3C1079.5,884.2 1083.1,884.1 1086.7,883.8C1090.3,883.5 1094.0,882.9 1097.6,882.4C1101.2,881.9 1104.7,881.5 1108.2,880.9C1111.8,880.3 1115.3,879.5 1118.9,878.9C1122.5,878.3 1126.2,877.8 1129.8,877.4C1133.4,877.0 1136.9,876.8 1140.5,876.7C1144.1,876.6 1147.6,876.6 1151.2,876.7C1154.8,876.8 1158.5,876.8 1162.1,877.1C1165.7,877.4 1169.2,878.1 1172.8,878.6C1176.3,879.1 1179.9,879.6 1183.4,880.1C1186.9,880.6 1190.2,881.2 1193.8,881.6C1197.4,882.0 1201.3,882.4 1205.0,882.6C1208.7,882.8 1212.1,882.9 1215.7,882.9C1219.3,882.9 1223.0,882.6 1226.6,882.4C1230.2,882.1 1233.8,881.9 1237.3,881.4C1240.8,880.9 1244.3,880.2 1247.9,879.6C1251.5,879.0 1255.3,878.4 1258.9,877.9C1262.5,877.4 1266.0,876.8 1269.5,876.4C1273.0,876.0 1276.6,875.8 1280.2,875.7C1283.8,875.6 1287.5,875.6 1291.1,875.7C1294.7,875.8 1298.2,876.0 1301.8,876.4C1305.4,876.8 1308.9,877.3 1312.5,877.9C1316.1,878.5 1319.8,879.2 1323.4,879.9C1327.0,880.6 1330.5,881.5 1334.0,882.1C1337.5,882.8 1341.2,883.3 1344.7,883.8C1348.2,884.3 1351.6,884.9 1355.1,885.1C1358.6,885.4 1362.2,885.5 1365.8,885.3C1369.4,885.1 1373.7,884.5 1376.7,884.1C1379.7,883.7 1382.8,882.9 1384.0,882.6" stroke="#0000ff" stroke-width="6.2" fill="none" stroke-dasharray="6.2 4.8"/>
<path d="M396,43.8H505.5" stroke="#ff0000" stroke-width="6.4" fill="none"/>
<path d="M757.9,43.9H862.2" stroke="#0000ff" stroke-width="6.2" fill="none" stroke-dasharray="6.2 4.8"/>
</svg>
<div class="t xt" style="left:223.5px;top:247.0px">0</div>
<div class="t xt" style="left:417.0px;top:247.0px">20</div>
<div class="t xt" style="left:610.8px;top:247.0px">40</div>
<div class="t xt" style="left:804.5px;top:247.0px">60</div>
<div class="t xt" style="left:998.7px;top:247.0px">80</div>
<div class="t xt" style="left:1193.5px;top:247.0px"><svg class="g1" viewBox="0 -1466 1139 1466" preserveAspectRatio="none"><path d="M763 0H583V-1147Q518 -1085 412.5 -1023T223 -930V-1104Q373 -1174.5 485.5 -1275T647 -1466H763Z"/></svg>00</div>
<div class="t xt" style="left:1387.0px;top:247.0px"><svg class="g1" viewBox="0 -1466 1139 1466" preserveAspectRatio="none"><path d="M763 0H583V-1147Q518 -1085 412.5 -1023T223 -930V-1104Q373 -1174.5 485.5 -1275T647 -1466H763Z"/></svg>20</div>
<div class="t yt" style="right:1244.0px;top:84.3px">2</div>
<div class="t yt" style="right:1243.6px;top:154.75px"><svg class="g1" viewBox="0 -1466 1139 1466" preserveAspectRatio="none"><path d="M763 0H583V-1147Q518 -1085 412.5 -1023T223 -930V-1104Q373 -1174.5 485.5 -1275T647 -1466H763Z"/></svg></div>
<div class="t yt" style="right:1244.0px;top:225.2px">0</div>
<div class="t lab yl" style="left:146px;top:150.5px"><i>u</i> /(m/s)</div>
<div class="t xt" style="left:223.5px;top:496.0px">0</div>
<div class="t xt" style="left:417.0px;top:496.0px">20</div>
<div class="t xt" style="left:610.8px;top:496.0px">40</div>
<div class="t xt" style="left:804.5px;top:496.0px">60</div>
<div class="t xt" style="left:998.7px;top:496.0px">80</div>
<div class="t xt" style="left:1193.5px;top:496.0px"><svg class="g1" viewBox="0 -1466 1139 1466" preserveAspectRatio="none"><path d="M763 0H583V-1147Q518 -1085 412.5 -1023T223 -930V-1104Q373 -1174.5 485.5 -1275T647 -1466H763Z"/></svg>00</div>
<div class="t xt" style="left:1387.0px;top:496.0px"><svg class="g1" viewBox="0 -1466 1139 1466" preserveAspectRatio="none"><path d="M763 0H583V-1147Q518 -1085 412.5 -1023T223 -930V-1104Q373 -1174.5 485.5 -1275T647 -1466H763Z"/></svg>20</div>
<div class="t yt" style="right:1246.0px;top:347.6px">0.2</div>
<div class="t yt" style="right:1245.0px;top:385.3px">0.<svg class="g1" viewBox="0 -1466 1139 1466" preserveAspectRatio="none"><path d="M763 0H583V-1147Q518 -1085 412.5 -1023T223 -930V-1104Q373 -1174.5 485.5 -1275T647 -1466H763Z"/></svg></div>
<div class="t yt" style="right:1244.0px;top:422.90000000000003px">0</div>
<div class="t yt" style="right:1243.3px;top:460.6px"><span class="mn">−</span>0.<svg class="g1" viewBox="0 -1466 1139 1466" preserveAspectRatio="none"><path d="M763 0H583V-1147Q518 -1085 412.5 -1023T223 -930V-1104Q373 -1174.5 485.5 -1275T647 -1466H763Z"/></svg></div>
<div class="t lab yl" style="left:76px;top:397.5px"><i>v</i> /(m/s)</div>
<div class="t xt" style="left:223.5px;top:745.0px">0</div>
<div class="t xt" style="left:417.0px;top:745.0px">20</div>
<div class="t xt" style="left:610.8px;top:745.0px">40</div>
<div class="t xt" style="left:804.5px;top:745.0px">60</div>
<div class="t xt" style="left:998.7px;top:745.0px">80</div>
<div class="t xt" style="left:1193.5px;top:745.0px"><svg class="g1" viewBox="0 -1466 1139 1466" preserveAspectRatio="none"><path d="M763 0H583V-1147Q518 -1085 412.5 -1023T223 -930V-1104Q373 -1174.5 485.5 -1275T647 -1466H763Z"/></svg>00</div>
<div class="t xt" style="left:1387.0px;top:745.0px"><svg class="g1" viewBox="0 -1466 1139 1466" preserveAspectRatio="none"><path d="M763 0H583V-1147Q518 -1085 412.5 -1023T223 -930V-1104Q373 -1174.5 485.5 -1275T647 -1466H763Z"/></svg>20</div>
<div class="t yt" style="right:1245.7px;top:583.8px">0.05</div>
<div class="t yt" style="right:1244.0px;top:648.3px">0</div>
<div class="t yt" style="right:1244.5px;top:712.8px"><span class="mn">−</span>0.05</div>
<div class="t lab yl" style="left:50.5px;top:648.5px"><i>p</i> /(°/s)</div>
<div class="t xt" style="left:223.5px;top:994.0px">0</div>
<div class="t xt" style="left:417.0px;top:994.0px">20</div>
<div class="t xt" style="left:610.8px;top:994.0px">40</div>
<div class="t xt" style="left:804.5px;top:994.0px">60</div>
<div class="t xt" style="left:998.7px;top:994.0px">80</div>
<div class="t xt" style="left:1193.5px;top:994.0px"><svg class="g1" viewBox="0 -1466 1139 1466" preserveAspectRatio="none"><path d="M763 0H583V-1147Q518 -1085 412.5 -1023T223 -930V-1104Q373 -1174.5 485.5 -1275T647 -1466H763Z"/></svg>00</div>
<div class="t xt" style="left:1387.0px;top:994.0px"><svg class="g1" viewBox="0 -1466 1139 1466" preserveAspectRatio="none"><path d="M763 0H583V-1147Q518 -1085 412.5 -1023T223 -930V-1104Q373 -1174.5 485.5 -1275T647 -1466H763Z"/></svg>20</div>
<div class="t yt" style="right:1244.5px;top:848.4px">20</div>
<div class="t yt" style="right:1244.0px;top:882.6999999999999px">0</div>
<div class="t yt" style="right:1244.5px;top:917.1px"><span class="mn">−</span>20</div>
<div class="t yt" style="right:1244.5px;top:951.4px"><span class="mn">−</span>40</div>
<div class="t lab yl" style="left:87px;top:896px"><i>r</i> /(°/s)</div>
<div class="t lab" style="left:806.5px;top:1055px;transform:translateX(-50%) scaleY(1.07)">time /s</div>
<div class="t leg" style="left:511px;top:21.4px;transform:scaleX(0.983);transform-origin:0 0">Method 1</div>
<div class="t leg" style="left:874px;top:21.4px;transform:scaleX(0.983);transform-origin:0 0">Method 2</div>
</body></html>
